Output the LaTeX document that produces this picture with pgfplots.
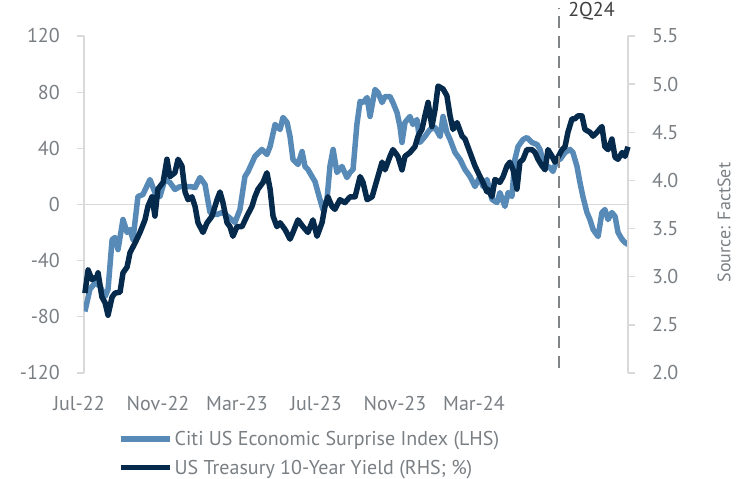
\documentclass[border=0pt]{standalone}
\usepackage{fontspec}
\setmainfont{PT Sans}
\usepackage{pgfplots}
\pgfplotsset{compat=1.18}
\definecolor{cesi}{HTML}{588AB8}
\definecolor{ust}{HTML}{062A4C}
\definecolor{txt}{HTML}{7A7F84}
\definecolor{axl}{HTML}{D9D9D9}
\definecolor{dashc}{HTML}{808487}

% Citi US Economic Surprise Index, x = months since Jul-2022
\pgfplotstableread{
x y
0.04 -76.2
0.26 -60.5
0.49 -55.6
0.71 -58.4
0.93 -65.5
1.06 -60.5
1.24 -25.0
1.37 -23.5
1.50 -32.1
1.72 -10.7
1.90 -19.9
2.03 -17.8
2.16 -24.9
2.38 5.7
2.60 7.1
2.91 17.8
3.13 8.5
3.35 5.7
3.57 17.8
3.79 15.7
4.01 10.7
4.24 12.8
4.68 12.8
4.90 12.1
5.12 19.2
5.34 14.2
5.56 -5.7
5.87 -7.1
6.09 -5.7
6.35 -8.5
6.66 -12.8
6.88 -3.6
7.10 19.9
7.24 23.5
7.54 34.2
7.85 39.2
8.07 35.6
8.21 41.3
8.43 57.0
8.65 53.4
8.78 62.0
8.96 58.4
9.09 48.4
9.22 32.1
9.44 28.5
9.62 37.7
9.75 27.1
9.88 24.9
10.06 19.9
10.19 16.4
10.41 3.6
10.54 -3.6
10.72 3.6
10.85 27.1
10.99 39.2
11.16 22.8
11.38 27.1
11.60 19.2
11.74 22.8
11.87 24.9
12.04 57.0
12.18 73.4
12.31 72.6
12.49 76.2
12.62 62.7
12.84 81.9
12.97 79.8
13.15 72.6
13.28 76.9
13.50 76.9
13.63 72.6
13.81 65.5
13.94 55.6
14.03 44.2
14.16 58.4
14.38 62.7
14.51 57.0
14.69 60.5
14.82 44.2
15.04 48.4
15.26 53.4
15.49 54.8
15.71 48.4
15.84 62.7
16.01 51.3
16.15 46.3
16.37 37.0
16.59 32.1
16.81 24.9
17.03 19.9
17.25 12.8
17.47 19.9
17.60 12.8
17.78 17.8
18.00 3.6
18.22 1.4
18.35 8.5
18.57 -1.4
18.71 8.5
18.88 5.7
19.01 32.1
19.15 41.3
19.37 46.3
19.54 47.7
19.76 44.2
19.99 42.7
20.12 39.2
20.25 30.6
20.43 27.1
20.56 26.4
20.69 23.5
20.87 32.1
21.00 32.1
21.22 37.0
21.44 39.2
21.57 37.0
21.75 27.1
21.88 15.7
22.01 5.7
22.19 -5.7
22.32 -10.7
22.46 -17.8
22.68 -22.8
22.85 -5.7
22.98 -3.6
23.12 -10.7
23.29 -5.7
23.43 -8.5
23.56 -19.9
23.74 -24.9
23.87 -27.1
24.00 -28.5
}\cesidata

% US Treasury 10-year yield, %
\pgfplotstableread{
x y
0.04 2.83
0.18 3.07
0.35 2.97
0.57 3.00
0.62 3.04
0.79 2.79
0.93 2.73
1.06 2.60
1.24 2.79
1.37 2.83
1.59 2.84
1.72 3.04
1.90 3.10
2.03 3.25
2.25 3.35
2.47 3.46
2.69 3.59
2.82 3.73
3.00 3.83
3.13 3.63
3.26 3.91
3.49 3.98
3.66 4.22
3.79 4.04
4.01 4.08
4.15 4.22
4.32 4.15
4.46 3.88
4.59 3.80
4.76 3.83
4.90 3.73
5.03 3.56
5.25 3.46
5.43 3.56
5.65 3.63
5.87 3.80
6.00 3.88
6.13 3.77
6.31 3.56
6.44 3.52
6.57 3.42
6.75 3.52
6.97 3.52
7.19 3.63
7.41 3.73
7.54 3.83
7.68 3.91
7.90 3.98
8.07 4.08
8.21 3.91
8.34 3.63
8.51 3.52
8.65 3.56
8.87 3.49
9.09 3.39
9.22 3.46
9.44 3.59
9.66 3.52
9.88 3.46
10.10 3.59
10.28 3.42
10.50 3.56
10.63 3.73
10.76 3.83
10.94 3.73
11.07 3.70
11.29 3.80
11.51 3.77
11.74 3.83
11.96 3.83
12.18 4.04
12.31 3.98
12.49 3.80
12.71 3.83
12.93 4.01
13.15 4.19
13.28 4.11
13.50 4.25
13.63 4.32
13.85 4.25
14.03 4.11
14.16 4.25
14.38 4.29
14.60 4.35
14.74 4.46
14.91 4.53
15.04 4.67
15.18 4.81
15.35 4.56
15.49 4.74
15.62 4.98
15.84 4.95
16.01 4.88
16.15 4.67
16.28 4.53
16.46 4.60
16.68 4.46
16.81 4.43
17.03 4.29
17.25 4.15
17.47 4.04
17.60 3.98
17.78 3.88
17.82 3.91
18.00 3.83
18.13 4.01
18.35 3.98
18.49 4.04
18.66 4.15
18.79 4.19
18.93 4.11
19.10 3.91
19.23 4.19
19.37 4.22
19.54 4.32
19.76 4.32
19.90 4.29
20.03 4.22
20.21 4.15
20.34 4.11
20.47 4.32
20.65 4.25
20.78 4.19
20.91 4.24
21.09 4.32
21.22 4.35
21.35 4.50
21.53 4.64
21.66 4.64
21.79 4.67
21.97 4.67
22.10 4.53
22.32 4.50
22.46 4.46
22.63 4.50
22.85 4.56
22.98 4.35
23.12 4.32
23.29 4.43
23.43 4.24
23.56 4.22
23.74 4.29
23.87 4.25
24.00 4.35
}\ustdata

\pgfplotsset{
  base/.style={
    scale only axis, width=544pt, height=337pt,
    xmin=0, xmax=24,
    font=\fontsize{20}{24}\selectfont,
    tick label style={text=txt},
    /pgf/number format/assume math mode=true,
    axis line style={axl, line width=1.3pt},
    tick style={axl, line width=1.3pt},
    tick align=outside, major tick length=7pt,
    yticklabel style={inner xsep=17pt},
  },
}

\begin{document}
\begin{tikzpicture}
\begin{axis}[base, name=ax,
    axis y line*=left, axis x line*=bottom,
    x axis line style={draw=none},
    xtick={0,3.485,6.97,10.455,13.94,17.425},
    xticklabels={Jul-22,Nov-22,Mar-23,Jul-23,Nov-23,Mar-24},
    xtick style={draw=none},
    xticklabel style={xshift=-5pt, yshift=-13pt},
    ymin=-120, ymax=120, ytick={-120,-80,...,120},
    legend style={draw=none, fill=none, text=txt,
      at={(axis description cs:0.0625,0)}, anchor=north west,
      yshift=-56pt, inner sep=0pt, row sep=9pt,
      /tikz/every even column/.append style={column sep=0pt}},
    legend cell align=left,
    legend image code/.code={\draw[#1] (0pt,0pt) -- (49pt,0pt);},
]
\addplot[axl, line width=1.5pt, forget plot] coordinates {(0,0) (24,0)};
\addplot[cesi, line width=5.5pt, line join=round] table {\cesidata};
\addlegendentry{Citi US Economic Surprise Index (LHS)}
\addlegendimage{ust, line width=5pt}
\addlegendentry{US Treasury 10-Year Yield (RHS; \%)}
\end{axis}
\begin{axis}[base, clip=false,
    axis y line*=right, axis x line=none,
    ymin=2, ymax=5.5, ytick={2,2.5,...,5.5},
    yticklabel style={/pgf/number format/.cd, fixed, fixed zerofill, precision=1},
]
\addplot[ust, line width=5.5pt, line join=round] table {\ustdata};
\draw[dashc, line width=2.7pt, dash pattern=on 12pt off 8pt] (axis cs:20.96,2.05) -- (axis cs:20.96,5.79);
\node[anchor=west, text=black!75, inner sep=0pt] at ([xshift=9pt]axis cs:20.96,5.76) {2Q24};
\end{axis}
\node[rotate=90, inner sep=0pt, text=txt, font=\fontsize{18}{21}\selectfont] at ([xshift=96pt,yshift=-18pt]ax.east) {Source: FactSet};
\pgfresetboundingbox
\path[use as bounding box] ([xshift=-84pt,yshift=-106pt]ax.south west) rectangle ([xshift=109pt,yshift=36pt]ax.north east);
\end{tikzpicture}
\end{document}
